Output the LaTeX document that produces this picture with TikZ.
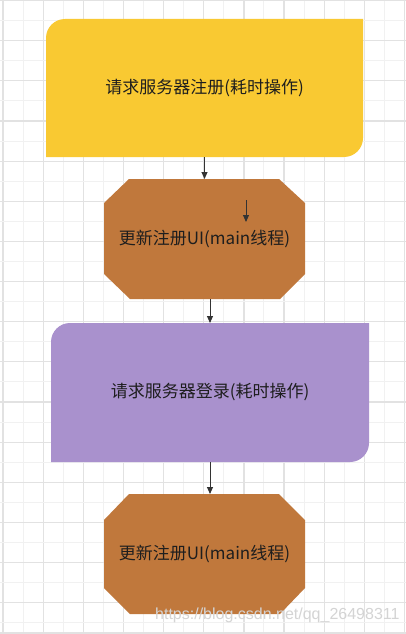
\documentclass[tikz,border=0pt]{standalone}
\usepackage{fontspec}
\setmainfont{Noto Sans CJK SC}
\newfontfamily\wmfont{Liberation Sans}
\usetikzlibrary{arrows.meta}
\pgfdeclarelayer{background}
\pgfsetlayers{background,main}
\definecolor{yellowc}{RGB}{249,201,50}
\definecolor{brownc}{RGB}{192,120,60}
\definecolor{purplec}{RGB}{169,145,205}
\definecolor{gridD}{RGB}{226,226,226}
\definecolor{gridL}{RGB}{241,241,241}
\definecolor{txt}{RGB}{30,30,30}
\definecolor{arrc}{RGB}{51,51,51}
\definecolor{wmc}{RGB}{212,212,212}
\begin{document}
\begin{tikzpicture}[x=1pt,y=-1pt,
  lbl/.style={inner sep=0pt, outer sep=0pt, font=\fontsize{17}{20}\selectfont, text=txt},
  arr/.style={draw=arrc, line width=0.9pt, -{Triangle[length=7pt,width=6pt]}},
  wm/.style={inner sep=0pt, font=\wmfont\fontsize{16}{18}\selectfont, text=wmc},
  gd/.style={draw=gridD, line width=1.2pt},
  gl/.style={draw=gridL, line width=1pt}]
\useasboundingbox (0,0) rectangle (406,634);

% nodes
\node[lbl, minimum width=317pt, minimum height=138pt] (b1) at (204.5,88) {请求服务器注册(耗时操作)};
\node[lbl, minimum width=201pt, minimum height=120pt] (o1) at (204.5,239) {更新注册UI(main线程)};
\node[lbl, minimum width=318pt, minimum height=139pt] (b2) at (210,392.5) {请求服务器登录(耗时操作)};
\node[lbl, minimum width=201pt, minimum height=120pt] (o2) at (204.5,554) {更新注册UI(main线程)};
\coordinate (s1) at (246,200);
\coordinate (s2) at (246,222);

\begin{pgfonlayer}{background}
  \fill[white] (0,0) rectangle (406,634);
  % grid
  \foreach \k in {0,...,10} {
    \path[gd] (3+40.15*\k,0) -- (3+40.15*\k,634);
    \path[gl] (23.07+40.15*\k,0) -- (23.07+40.15*\k,634);
  }
  \foreach \k in {0,...,15} {
    \path[gd] (0,0.5+40.15*\k) -- (406,0.5+40.15*\k);
    \path[gl] (0,20.57+40.15*\k) -- (406,20.57+40.15*\k);
  }
  \path[gd] (0,633) -- (406,633);
  % box 1
  \fill[yellowc] (b1.south west) -- ([yshift=-19pt]b1.north west)
     arc[start angle=180,end angle=90,radius=19pt] -- (b1.north east)
     -- ([yshift=19pt]b1.south east) arc[start angle=0,end angle=-90,radius=19pt] -- cycle;
  % octagon 1
  \fill[brownc] ([xshift=25pt]o1.north west) -- ([xshift=-26pt]o1.north east)
     -- ([yshift=-24pt]o1.north east) -- ([yshift=25pt]o1.south east)
     -- ([xshift=-25pt]o1.south east) -- ([xshift=26pt]o1.south west)
     -- ([yshift=25pt]o1.south west) -- ([yshift=-24pt]o1.north west) -- cycle;
  % box 2
  \fill[purplec] (b2.south west) -- ([yshift=-19pt]b2.north west)
     arc[start angle=180,end angle=90,radius=19pt] -- (b2.north east)
     -- ([yshift=19pt]b2.south east) arc[start angle=0,end angle=-90,radius=19pt] -- cycle;
  % octagon 2
  \fill[brownc] ([xshift=25pt]o2.north west) -- ([xshift=-26pt]o2.north east)
     -- ([yshift=-26pt]o2.north east) -- ([yshift=26pt]o2.south east)
     -- ([xshift=-25pt]o2.south east) -- ([xshift=26pt]o2.south west)
     -- ([yshift=26pt]o2.south west) -- ([yshift=-26pt]o2.north west) -- cycle;
\end{pgfonlayer}

% connectors
\draw[arr] (b1.south) -- (o1.north);
\draw[arr] (o1.south -| b2.north) -- (b2.north);
\draw[arr] (b2.south) -- (b2.south |- o2.north);
\draw[arr] (s1) -- (s2);

% watermark
\node[wm, anchor=west] (wm) at (155,615) {https://blog.csdn.net/qq\_26498311};
\end{tikzpicture}
\end{document}
